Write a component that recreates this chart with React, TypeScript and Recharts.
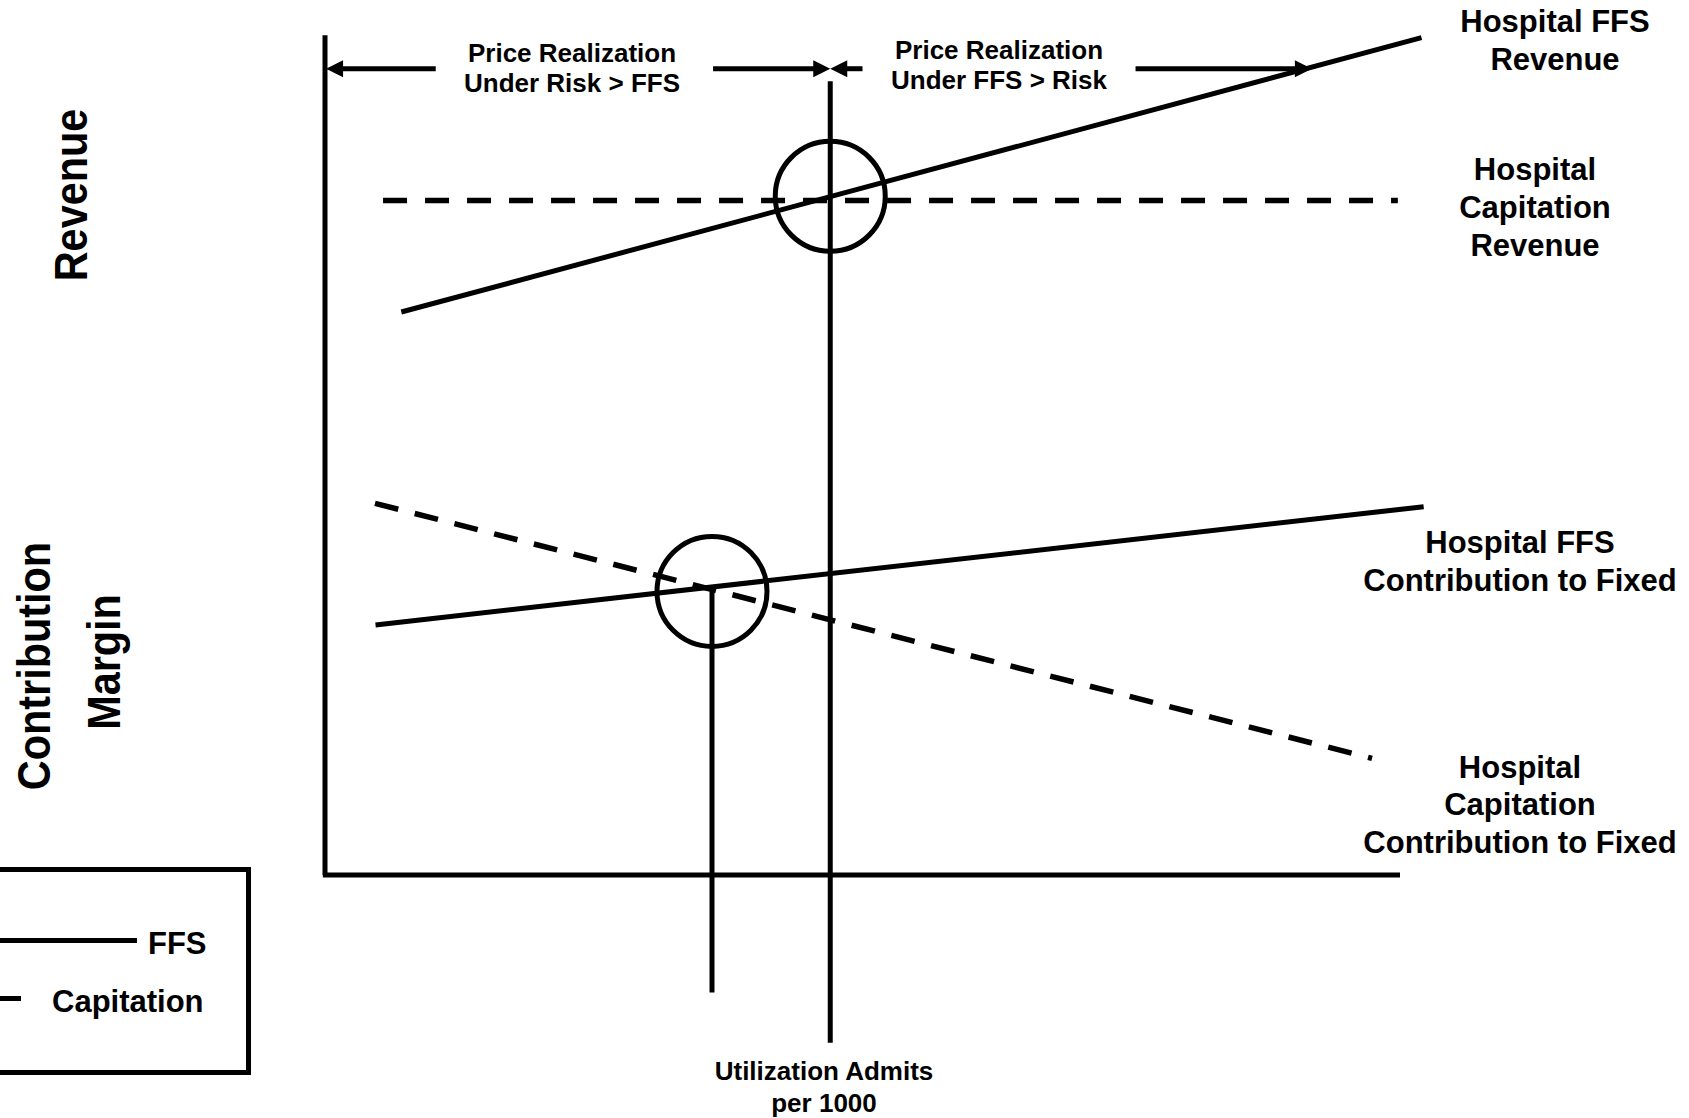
import React from 'react';
import { LineChart, Line, XAxis, YAxis, ReferenceLine, ReferenceDot } from 'recharts';

// utilisation (x) vs value (y), both in conceptual 0-100 units
const ffsRevenue = [{ x: 7.1, y: 67.1 }, { x: 102, y: 99.8 }];
const capitationRevenue = [{ x: 5.4, y: 80.4 }, { x: 99.8, y: 80.4 }];
const ffsContribution = [{ x: 4.7, y: 29.8 }, { x: 102.2, y: 43.9 }];
const capitationContribution = [{ x: 4.65, y: 44.3 }, { x: 97.4, y: 13.9 }];

const breakEvens = [
  { x: 47, y: 80.9, top: 94.6, bottom: -20 },
  { x: 36, y: 33.8, top: 33.8, bottom: -14 },
];

const arrowY = 96.1;
const arrows = [
  { from: 10.3, to: 0.1 },
  { from: 36.1, to: 47 },
  { from: 50, to: 47 },
  { from: 75.4, to: 91.8 },
];

const FONT = '"Liberation Sans", Arial, Helvetica, sans-serif';

const Arrow = (p: any) => {
  const { x1, y1, x2, y2 } = p;
  const dx = x2 - x1;
  const dy = y2 - y1;
  const len = Math.sqrt(dx * dx + dy * dy) || 1;
  const ux = dx / len;
  const uy = dy / len;
  const hl = 17;
  const hw = 8.5;
  const bx = x2 - ux * hl;
  const by = y2 - uy * hl;
  return (
    <g>
      <line x1={x1} y1={y1} x2={bx + ux * 2} y2={by + uy * 2} stroke="#000" strokeWidth={5} />
      <polygon
        points={`${x2},${y2} ${bx - uy * hw},${by + ux * hw} ${bx + uy * hw},${by - ux * hw}`}
        fill="#000"
      />
    </g>
  );
};

const TextBlock = ({ x, y, lines, size, lh, rotate, left }: any) => (
  <div
    style={{
      position: 'absolute',
      left: x,
      top: y,
      transform: left
        ? 'translate(0, -50%)'
        : rotate
        ? 'translate(-50%, -50%) rotate(-90deg) scaleX(0.9)'
        : 'translate(-50%, -50%)',
      fontFamily: FONT,
      fontWeight: 700,
      fontSize: size,
      lineHeight: `${lh}px`,
      textAlign: 'center',
      whiteSpace: 'nowrap',
      color: '#000',
    }}
  >
    {lines.map((l: string, i: number) => (
      <div key={i}>{l}</div>
    ))}
  </div>
);

export default function App() {
  return (
    <div style={{ position: 'relative', width: 1689, height: 1118, background: '#fff', overflow: 'hidden' }}>
      <style>{'body{margin:0}'}</style>
      <LineChart width={1689} height={1118} margin={{ top: 2.44, right: 20.25, bottom: 8.08, left: 2.5 }}>
        <XAxis type="number" dataKey="x" domain={[-30, 125]} allowDataOverflow hide />
        <YAxis type="number" dataKey="y" domain={[-28, 104]} allowDataOverflow hide />

        {/* axes */}
        <ReferenceLine segment={[{ x: 0, y: 0 }, { x: 0, y: 100.1 }]} stroke="#000" strokeWidth={5} />
        <ReferenceLine segment={[{ x: -0.2, y: 0 }, { x: 100, y: 0 }]} stroke="#000" strokeWidth={5} />

        {breakEvens.map((b, i) => (
          <ReferenceLine key={`v${i}`} segment={[{ x: b.x, y: b.top }, { x: b.x, y: b.bottom }]} stroke="#000" strokeWidth={5} />
        ))}

        {arrows.map((a, i) => (
          <ReferenceLine
            key={`a${i}`}
            segment={[{ x: a.from, y: arrowY }, { x: a.to, y: arrowY }]}
            shape={Arrow}
          />
        ))}

        <Line data={ffsRevenue} dataKey="y" type="linear" stroke="#000" strokeWidth={5} dot={false} isAnimationActive={false} />
        <Line data={capitationRevenue} dataKey="y" type="linear" stroke="#000" strokeWidth={5.5} strokeDasharray="24 18" dot={false} isAnimationActive={false} />
        <Line data={ffsContribution} dataKey="y" type="linear" stroke="#000" strokeWidth={5} dot={false} isAnimationActive={false} />
        <Line data={capitationContribution} dataKey="y" type="linear" stroke="#000" strokeWidth={5.5} strokeDasharray="24 17" dot={false} isAnimationActive={false} />

        {breakEvens.map((b, i) => (
          <ReferenceDot key={`c${i}`} x={b.x} y={b.y} r={55} fill="none" stroke="#000" strokeWidth={5} />
        ))}
      </LineChart>

      <TextBlock x={572} y={68.3} lines={['Price Realization', 'Under Risk > FFS']} size={26} lh={29.5} />
      <TextBlock x={999} y={65} lines={['Price Realization', 'Under FFS > Risk']} size={26} lh={30} />
      <TextBlock x={1555} y={41} lines={['Hospital FFS', 'Revenue']} size={31} lh={38} />
      <TextBlock x={1535} y={207.5} lines={['Hospital', 'Capitation', 'Revenue']} size={31} lh={38} />
      <TextBlock x={1520} y={562} lines={['Hospital FFS', 'Contribution to Fixed']} size={31} lh={38} />
      <TextBlock x={1520} y={804.5} lines={['Hospital', 'Capitation', 'Contribution to Fixed']} size={31} lh={37.5} />
      <TextBlock x={824} y={1087} lines={['Utilization Admits', 'per 1000']} size={26} lh={32} />

      <TextBlock x={70.5} y={195} lines={['Revenue']} size={46} lh={46} rotate />
      <TextBlock x={34} y={666} lines={['Contribution']} size={46} lh={46} rotate />
      <TextBlock x={103.5} y={662} lines={['Margin']} size={46} lh={46} rotate />

      {/* legend */}
      <div
        style={{
          position: 'absolute',
          left: -20,
          top: 866.5,
          width: 261,
          height: 198,
          border: '5px solid #000',
        }}
      />
      <div style={{ position: 'absolute', left: 0, top: 937.5, width: 137, height: 5, background: '#000' }} />
      <div style={{ position: 'absolute', left: 0, top: 996, width: 21, height: 5, background: '#000' }} />
      <TextBlock x={148} y={944} lines={['FFS']} size={31} lh={36} left />
      <TextBlock x={52} y={1002} lines={['Capitation']} size={31} lh={36} left />
    </div>
  );
}
